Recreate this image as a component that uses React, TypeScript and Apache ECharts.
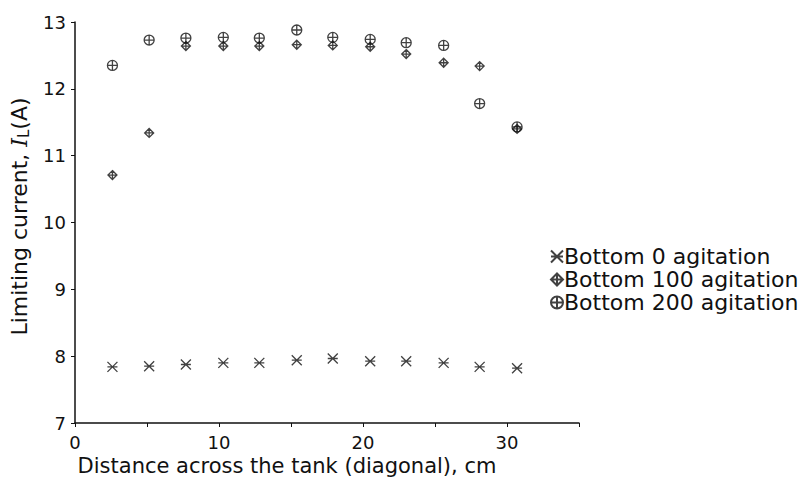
import React, { useEffect, useRef } from "react";
import * as echarts from "echarts";

const xPositions = [2.6, 5.15, 7.7, 10.3, 12.8, 15.4, 17.9, 20.5, 23.0, 25.6, 28.1, 30.7];
const bottom0 = [7.84, 7.85, 7.875, 7.9, 7.9, 7.94, 7.965, 7.925, 7.925, 7.9, 7.84, 7.82];
const bottom100 = [10.71, 11.34, 12.64, 12.64, 12.64, 12.66, 12.65, 12.63, 12.52, 12.39, 12.34, 11.4];
const bottom200 = [12.35, 12.73, 12.76, 12.77, 12.76, 12.88, 12.77, 12.74, 12.69, 12.65, 11.78, 11.43];
const seriesNames = ["Bottom 0 agitation", "Bottom 100 agitation", "Bottom 200 agitation"];
const xTickValues = [0, 10, 20, 30];

const SYM_AST = "path://M0,0L10,10M10,0L0,10M0,5L10,5";
const SYM_DIA = "path://M5,0L10,5L5,10L0,5ZM5,0L5,10M0,5L10,5";
const SYM_CIR = "path://M0,5A5,5,0,1,1,10,5A5,5,0,1,1,0,5ZM5,0L5,10M0,5L10,5";

const FONT = "DejaVu Sans";
const INK = "#111";

export default function App() {
  const ref = useRef<HTMLDivElement>(null);
  useEffect(() => {
    if (!ref.current) return;
    const chart = echarts.init(ref.current, null, { renderer: "svg" });
    const mk = (vals: number[]) => xPositions.map((x, i) => [x, vals[i]]);
    const symStyle = { color: "transparent", borderColor: INK, borderWidth: 1.3 };
    chart.setOption({
      animation: false,
      backgroundColor: "#fff",
      grid: { left: 75, top: 22, right: 223, bottom: 61, containLabel: false },
      xAxis: {
        type: "value",
        min: 0,
        max: 35,
        interval: 5,
        axisLine: { show: true, lineStyle: { color: INK, width: 1.5 } },
        axisTick: { show: true, length: 4, lineStyle: { color: INK, width: 1 } },
        splitLine: { show: false },
        axisLabel: {
          margin: 10,
          color: INK,
          fontFamily: FONT,
          fontSize: 18,
          formatter: (v: number) => (xTickValues.includes(v) ? String(v) : ""),
        },
        name: "Distance across the tank (diagonal), cm",
        nameLocation: "middle",
        nameGap: 31,
        nameTextStyle: { color: INK, fontFamily: FONT, fontSize: 21, padding: [0, 80, 0, 0] },
      },
      yAxis: {
        type: "value",
        min: 7,
        max: 13,
        interval: 1,
        axisLine: { show: true, lineStyle: { color: INK, width: 1.5 } },
        axisTick: { show: true, length: 4, lineStyle: { color: INK, width: 1 } },
        splitLine: { show: false },
        axisLabel: { margin: 9, color: INK, fontFamily: FONT, fontSize: 18 },
        name: "{n|Limiting current, }{i|I}{s|L}{n|(A)}",
        nameLocation: "middle",
        nameGap: 44,
        nameTextStyle: {
          color: INK,
          fontFamily: FONT,
          fontSize: 22,
          padding: [0, 0, 0, 12],
          rich: {
            n: { fontFamily: FONT, fontSize: 22, color: INK, lineHeight: 24 },
            i: { fontFamily: "DejaVu Serif", fontStyle: "italic", fontSize: 22, color: INK, lineHeight: 24 },
            s: { fontFamily: FONT, fontSize: 15, color: INK, lineHeight: 14, verticalAlign: "bottom" },
          },
        },
      },
      legend: {
        left: 545,
        top: 240,
        orient: "vertical",
        itemWidth: 12,
        itemHeight: 12,
        itemGap: 0,
        textStyle: { color: INK, fontFamily: FONT, fontSize: 22, lineHeight: 23, padding: [0, 0, 0, -4] },
        data: [
          { name: seriesNames[0], icon: SYM_AST },
          { name: seriesNames[1], icon: SYM_DIA },
          { name: seriesNames[2], icon: SYM_CIR },
        ],
      },
      series: [
        { name: seriesNames[0], type: "scatter", symbol: SYM_AST, symbolSize: 10, itemStyle: symStyle, data: mk(bottom0) },
        { name: seriesNames[1], type: "scatter", symbol: SYM_DIA, symbolSize: 9, itemStyle: symStyle, data: mk(bottom100) },
        { name: seriesNames[2], type: "scatter", symbol: SYM_CIR, symbolSize: 10, itemStyle: symStyle, data: mk(bottom200) },
      ],
    });
    return () => chart.dispose();
  }, []);
  return (
    <div
      ref={ref}
      style={{ position: "fixed", left: 0, top: 0, width: 802, height: 484, background: "#fff" }}
    />
  );
}
